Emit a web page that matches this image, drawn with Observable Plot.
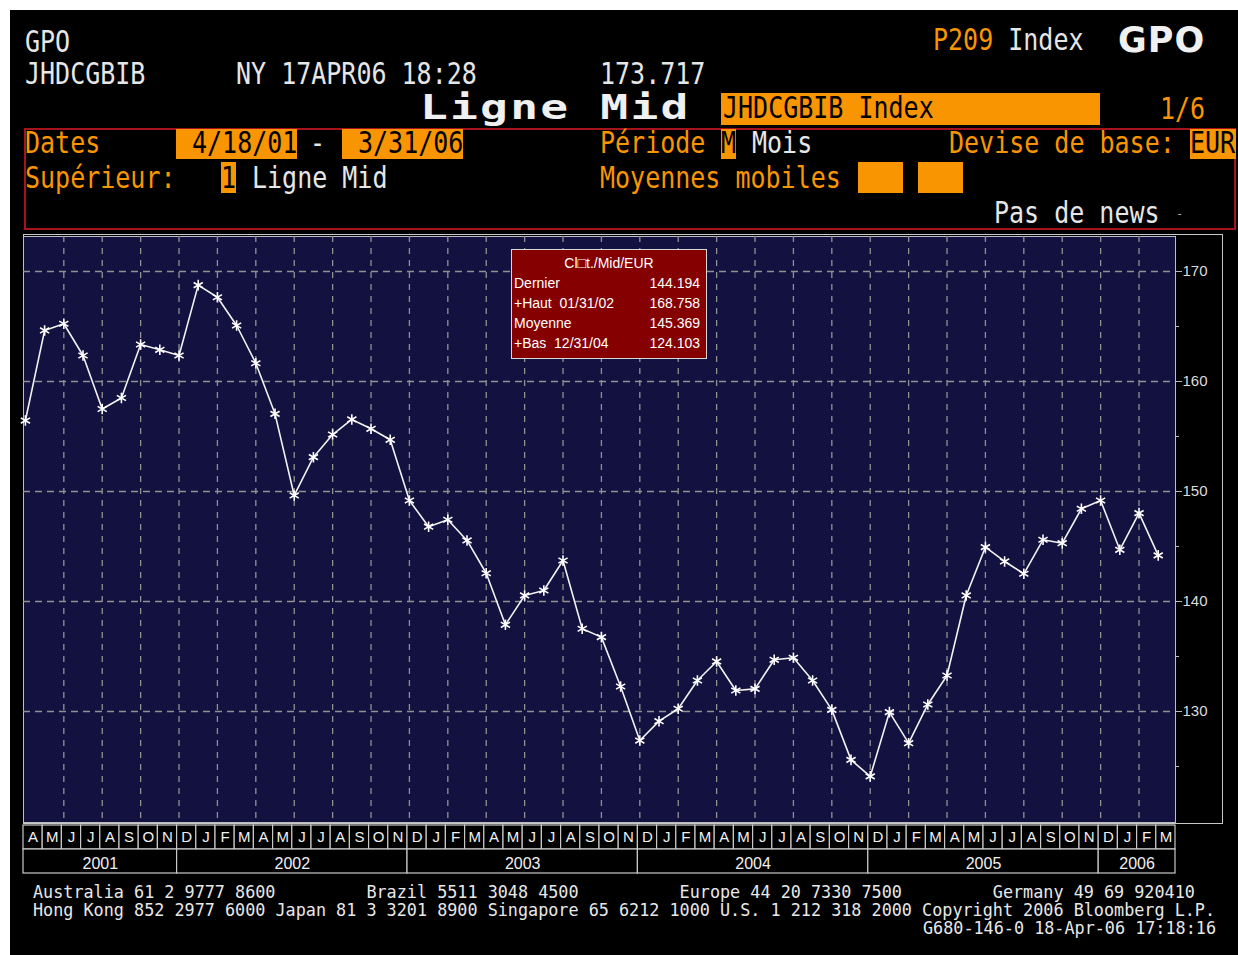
<!DOCTYPE html>
<html>
<head>
<meta charset="utf-8">
<script src="https://cdn.jsdelivr.net/npm/d3@7"></script>
<script src="https://cdn.jsdelivr.net/npm/@observablehq/plot@0.6"></script>
<style>
  html, body { margin: 0; padding: 0; background: #000; overflow: hidden; }
  #page { position: relative; width: 1238px; height: 955px; background: #000; overflow: hidden; }
  #wtop { position: absolute; left: 0; top: 0; width: 1238px; height: 10px; background: #fff; }
  #wleft { position: absolute; left: 0; top: 0; width: 10px; height: 955px; background: #fff; }
  .t { position: absolute; font-family: "DejaVu Sans Mono", monospace; font-size: 25px; line-height: 20px;
       white-space: pre; transform: scaleY(1.2); transform-origin: 0 0; color: #e6e6e6; }
  .o { color: #f99500; }
  .k { color: #000; }
  .box { position: absolute; background: #f99500; }
  #legend { position: absolute; left: 511px; top: 249px; width: 194px; height: 108px; background: #850000;
            border: 1px solid #d8d8d8; font-family: "Liberation Sans", Arial, sans-serif; font-size: 14px;
            line-height: 20px; color: #fff; }
  #legend .row { position: absolute; left: 2px; right: 6px; height: 20px; white-space: pre; }
  #legend .v { position: absolute; right: 0; top: 0; }
  .f { position: absolute; font-family: "DejaVu Sans Mono", monospace;
       font-size: 16.8px; line-height: 18px; color: #e8e8e8; white-space: pre; }
  #chart { position: absolute; left: 10px; top: 230px; }
  #strip { position: absolute; left: 10px; top: 824px; }
  #frame { position: absolute; left: 23px; top: 234px; width: 1198px; height: 588px; border: 1px solid #c8c8c8; }
</style>
</head>
<body>
<div id="page">
  <div id="wtop"></div>
  <div id="wleft"></div>

  <!-- header -->
  <div class="t" style="left:25px;top:29.5px">GPO</div>
  <div class="t" style="left:25px;top:61.5px">JHDCGBIB</div>
  <div class="t" style="left:236px;top:61.5px">NY 17APR06 18:28</div>
  <div class="t" style="left:600px;top:61.5px">173.717</div>
  <div class="t" style="left:933px;top:27.5px"><span class="o">P209</span> Index</div>
  <div style="position:absolute;left:1118px;top:23px;font-family:'DejaVu Sans',sans-serif;font-weight:bold;font-size:35px;line-height:35px;color:#f0f0f0;letter-spacing:1px">GPO</div>
  <div style="position:absolute;left:420px;top:91px;font-family:'DejaVu Sans Mono',monospace;font-weight:bold;font-size:33px;line-height:33px;letter-spacing:1.6px;color:#f0f0f0;white-space:pre;transform:scaleX(1.4);transform-origin:0 0">Ligne Mid</div>
  <div class="box" style="left:721px;top:93px;width:379px;height:32px"></div>
  <div class="t k" style="left:723px;top:95.5px">JHDCGBIB Index</div>
  <div class="t o" style="left:1160px;top:96.5px">1/6</div>

  <div style="position:absolute;left:24px;top:128px;width:1208px;height:98px;border:2px solid #a8141e"></div>
  <div class="t o" style="left:25px;top:130.5px">Dates</div>
  <div class="box" style="left:176px;top:129px;width:121px;height:30px"></div>
  <div class="t k" style="left:192px;top:131px">4/18/01</div>
  <div class="t" style="left:310px;top:130.5px">-</div>
  <div class="box" style="left:342px;top:129px;width:121px;height:30px"></div>
  <div class="t k" style="left:358px;top:131px">3/31/06</div>
  <div class="t o" style="left:600px;top:130.5px">Période</div>
  <div class="box" style="left:721px;top:129px;width:15px;height:30px"></div>
  <div class="t k" style="left:721px;top:131px">M</div>
  <div class="t" style="left:752px;top:130.5px">Mois</div>
  <div class="t o" style="left:949px;top:130.5px">Devise de base:</div>
  <div class="box" style="left:1190px;top:129px;width:46px;height:30px"></div>
  <div class="t k" style="left:1190px;top:131px">EUR</div>

  <div class="t o" style="left:25px;top:165.5px">Supérieur:</div>
  <div class="box" style="left:221px;top:162px;width:15px;height:31px"></div>
  <div class="t k" style="left:221px;top:165.5px">1</div>
  <div class="t" style="left:252px;top:165.5px">Ligne Mid</div>
  <div class="t o" style="left:600px;top:165.5px">Moyennes mobiles</div>
  <div class="box" style="left:858px;top:162px;width:45px;height:31px"></div>
  <div class="box" style="left:918px;top:162px;width:45px;height:31px"></div>
  <div class="t" style="left:994px;top:200.5px">Pas de news</div>
  <div style="position:absolute;left:1176px;top:207px;font-family:'DejaVu Sans Mono',monospace;font-size:12px;color:#aaa">-</div>

  <div id="frame"></div>
  <div id="chart"></div>
  <div id="strip"></div>

  <div id="legend">
    <div class="row" style="top:3px;left:0;right:0;text-align:center">Cl□t./Mid/EUR</div>
    <div class="row" style="top:23px">Dernier<span class="v">144.194</span></div>
    <div class="row" style="top:43px">+Haut  01/31/02<span class="v">168.758</span></div>
    <div class="row" style="top:63px">Moyenne<span class="v">145.369</span></div>
    <div class="row" style="top:83px">+Bas  12/31/04<span class="v">124.103</span></div>
  </div>

  <div class="f" style="left:33px;top:882.5px">Australia 61 2 9777 8600         Brazil 5511 3048 4500          Europe 44 20 7330 7500         Germany 49 69 920410</div>
  <div class="f" style="left:33px;top:900.5px">Hong Kong 852 2977 6000 Japan 81 3 3201 8900 Singapore 65 6212 1000 U.S. 1 212 318 2000 Copyright 2006 Bloomberg L.P.</div>
  <div class="f" style="right:22px;top:918.5px">G680-146-0 18-Apr-06 17:18:16</div>
</div>

<script>
// ---- data (monthly mid values, Apr 2001 .. Mar 2006) ----
const monthLetters = ["A","M","J","J","A","S","O","N",
  "D","J","F","M","A","M","J","J","A","S","O","N",
  "D","J","F","M","A","M","J","J","A","S","O","N",
  "D","J","F","M","A","M","J","J","A","S","O","N",
  "D","J","F","M","A","M","J","J","A","S","O","N",
  "D","J","F","M"];
const values = [156.45, 164.64, 165.25, 162.36, 157.50, 158.50, 163.36, 162.88,
  162.36, 168.76, 167.66, 165.09, 161.66, 157.06, 149.64, 153.12, 155.18, 156.55, 155.70, 154.70,
  149.18, 146.80, 147.43, 145.55, 142.57, 137.88, 140.55, 141.00, 143.73, 137.52, 136.76, 132.27,
  127.36, 129.12, 130.25, 132.82, 134.55, 131.91, 132.06, 134.70, 134.88, 132.82, 130.15, 125.60,
  124.10, 129.94, 127.12, 130.64, 133.27, 140.55, 144.94, 143.64, 142.52, 145.61, 145.30, 148.43,
  149.18, 144.70, 148.03, 144.19];
const yearLabels = ["2001","2002","2003","2004","2005","2006"];
const yearSpans = [8, 12, 12, 12, 12, 4];
const yTicks = [130, 140, 150, 160, 170];
const yMinorTicks = [125, 135, 145, 155, 165];

const series = values.map((v, i) => ({i, v}));
const cells = monthLetters.map((m, i) => ({x1: i - 0.1, x2: i + 0.9, xc: i + 0.4, label: m, row: "m"}));
let start = 0;
const years = yearLabels.map((y, k) => {
  const o = {x1: start - 0.1, x2: start + yearSpans[k] - 0.1, xc: start + yearSpans[k] / 2 - 0.1, label: y, row: "y"};
  start += yearSpans[k];
  return o;
});
const gridXTicks = d3.range(2, 60, 2);

const navy = "#12113f";
const gridColor = "#929292";
const W = 1218;
const xOpts = {domain: [-0.1, 59.9], axis: null};

const main = Plot.plot({
  width: W, height: 594,
  marginLeft: 13, marginRight: 53, marginTop: 6, marginBottom: 2,
  style: {background: "transparent", color: "#dcdcdc", fontFamily: "Liberation Sans, Arial, sans-serif", fontSize: "15px"},
  x: xOpts,
  y: {domain: [119.91, 173.18], axis: null},
  marks: [
    Plot.frame({fill: navy, stroke: "#bdbdbd"}),
    Plot.gridY(yTicks, {stroke: gridColor, strokeOpacity: 1, strokeWidth: 1.3, strokeDasharray: "7,5"}),
    Plot.gridX(gridXTicks, {stroke: gridColor, strokeOpacity: 1, strokeWidth: 1.3, strokeDasharray: "6,6"}),
    Plot.axisY(yTicks, {anchor: "right", label: null, tickSize: 6, tickPadding: 1, fontSize: 15, stroke: "#bdbdbd", fill: "#dcdcdc"}),
    Plot.axisY(yMinorTicks, {anchor: "right", label: null, tickSize: 3, tickFormat: () => "", stroke: "#bdbdbd"}),
    Plot.line(series, {x: "i", y: "v", stroke: "#f2f2f2", strokeWidth: 1.6}),
    Plot.dot(series, {x: "i", y: "v", symbol: "asterisk", r: 5, stroke: "#ffffff", strokeWidth: 1.6})
  ]
});
document.getElementById("chart").appendChild(main);

const strip = Plot.plot({
  width: W, height: 52,
  marginLeft: 13, marginRight: 53, marginTop: 1, marginBottom: 3,
  style: {background: "transparent", color: "#f0f0f0", fontFamily: "Liberation Sans, Arial, sans-serif"},
  x: xOpts,
  y: {type: "band", domain: ["m", "y"], padding: 0, axis: null},
  marks: [
    Plot.rect(cells, {x1: "x1", x2: "x2", y: "row", fill: "#000", stroke: "#c8c8c8", strokeWidth: 1.2}),
    Plot.rect(years, {x1: "x1", x2: "x2", y: "row", fill: "#000", stroke: "#c8c8c8", strokeWidth: 1.2}),
    Plot.text(cells, {x: "xc", y: "row", text: "label", fontSize: 15, fill: "#f0f0f0"}),
    Plot.text(years, {x: "xc", y: "row", text: "label", fontSize: 16, fill: "#f0f0f0", dy: 2})
  ]
});
document.getElementById("strip").appendChild(strip);
</script>
</body>
</html>
